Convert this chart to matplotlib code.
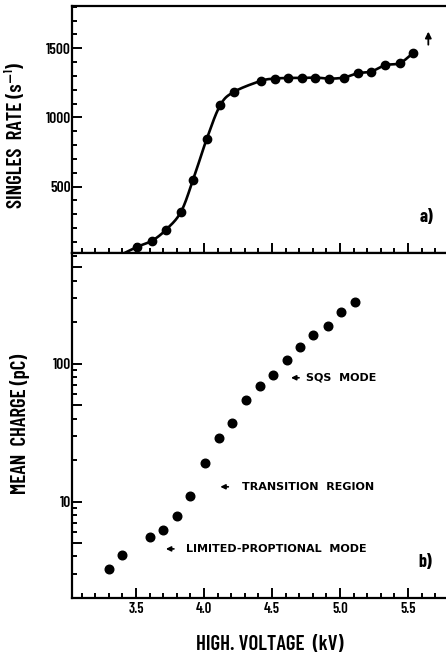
"""
HV scan of the chamber: singles rate (a) and mean collected charge (b)
against high voltage, with the operating regions marked.
"""

import numpy as np
import matplotlib
matplotlib.use("Agg")
import matplotlib.pyplot as plt
from matplotlib import ticker

OUT_PATH = "out.png"

# a) singles rate vs HV
hv_rate = [3.51, 3.62, 3.72, 3.83, 3.92, 4.02, 4.12, 4.22, 4.42, 4.52,
           4.62, 4.72, 4.82, 4.92, 5.03, 5.13, 5.23, 5.33, 5.44, 5.54]
singles_rate = [66, 110, 187, 315, 548, 842, 1088, 1184, 1264, 1280,
                1285, 1285, 1288, 1280, 1288, 1319, 1331, 1377, 1392, 1466]
# off-scale point beyond the last HV step
offscale_hv = 5.65
offscale_from, offscale_to = 1505, 1640

# b) mean charge vs HV
hv_charge = [3.30, 3.40, 3.60, 3.70, 3.80, 3.90, 4.01, 4.11, 4.21, 4.31,
             4.41, 4.51, 4.61, 4.71, 4.80, 4.91, 5.01, 5.11]
mean_charge = [3.24, 4.11, 5.52, 6.24, 7.87, 11.0, 19.2, 28.8, 37.3, 54.6,
               69.3, 82.8, 106, 131, 162, 188, 236, 279]

# region markers: (arrow head hv, charge, text start hv, label)
regions = [
    (4.62, 79, 4.75, "SQS  MODE"),
    (4.10, 12.8, 4.28, "TRANSITION  REGION"),
    (3.70, 4.54, 3.87, "LIMITED-PROPTIONAL  MODE"),
]

rate_ticks = [500, 1000, 1500]
charge_ticks = [5, 10, 50, 100, 500]
charge_labels = ["", "10", "", "100", ""]
hv_ticks = [3.5, 4.0, 4.5, 5.0, 5.5]

LETTER = ["Barlow Condensed", "DejaVu Sans"]


def catmull_rom(x, y, n=24):
    """Smooth curve passing through the measured points."""
    pts = np.column_stack([x, y]).astype(float)
    p = np.vstack([2 * pts[0] - pts[1], pts, 2 * pts[-1] - pts[-2]])
    t = np.linspace(0, 1, n, endpoint=False)[:, None]
    segs = []
    for i in range(1, len(p) - 2):
        p0, p1, p2, p3 = p[i - 1], p[i], p[i + 1], p[i + 2]
        segs.append(0.5 * (2 * p1 + (-p0 + p2) * t
                           + (2 * p0 - 5 * p1 + 4 * p2 - p3) * t ** 2
                           + (-p0 + 3 * p1 - 3 * p2 + p3) * t ** 3))
    segs.append(p[-2][None])
    return np.vstack(segs)


def style_axis(ax):
    for side in ("left", "bottom", "top"):
        ax.spines[side].set_linewidth(1.6)
    ax.spines["right"].set_visible(False)
    ax.tick_params(which="both", direction="in", top=False, right=False,
                   width=1.4)
    ax.tick_params(which="major", length=7)
    ax.tick_params(which="minor", length=3.5)
    ax.xaxis.set_major_locator(ticker.FixedLocator(hv_ticks))
    ax.xaxis.set_minor_locator(ticker.MultipleLocator(0.1))
    ax.set_xlim(3.03, 5.78)


fig = plt.figure(figsize=(4.46, 6.56), dpi=100)
ax1 = fig.add_axes([0.1614, 0.6143, 0.8386, 0.3766])
ax2 = fig.add_axes([0.1614, 0.0884, 0.8386, 0.5259])

# --- a) singles rate
style_axis(ax1)
curve = catmull_rom(hv_rate, singles_rate)
# carry the first segment down to the axis
y_floor = 20
d = curve[1] - curve[0]
k = (curve[0, 1] - y_floor) / d[1]
curve = np.vstack([curve[0] - 0.8 * k * d * np.array([1, 1.25]), curve])
ax1.plot(curve[:, 0], curve[:, 1], color="black", lw=1.9)
ax1.plot(hv_rate, singles_rate, "o", color="black", ms=6)
ax1.annotate("", xy=(offscale_hv, offscale_to), xytext=(offscale_hv, offscale_from),
             arrowprops=dict(arrowstyle="-|>", color="black", lw=1.3,
                             mutation_scale=9))
ax1.set_ylim(y_floor, 1805)
ax1.yaxis.set_major_locator(ticker.FixedLocator(rate_ticks))
ax1.yaxis.set_minor_locator(ticker.MultipleLocator(100))
ax1.tick_params(axis="x", labelbottom=False)
ax1.tick_params(axis="y", pad=1, labelsize=11)
ax1.text(0.949, 0.142, "a)", transform=ax1.transAxes, fontsize=13,
         fontweight="bold", family=LETTER, ha="center", va="center")

# --- b) mean charge
style_axis(ax2)
ax2.set_yscale("log")
ax2.plot(hv_charge, mean_charge, "o", color="black", ms=6.2)
ax2.set_ylim(2.0, 634)
ax2.yaxis.set_major_locator(ticker.FixedLocator(charge_ticks))
ax2.yaxis.set_major_formatter(ticker.FixedFormatter(charge_labels))
ax2.yaxis.set_minor_locator(ticker.LogLocator(base=10, subs=(2, 3, 4, 6, 7, 8, 9)))
ax2.yaxis.set_minor_formatter(ticker.NullFormatter())
ax2.tick_params(axis="y", pad=1, labelsize=11)
ax2.tick_params(axis="x", labelsize=10.5, pad=3)
ax2.set_xticklabels([f"{v:.1f}" for v in hv_ticks])

for head, q, text_x, label in regions:
    ax2.annotate("", xy=(head, q), xytext=(head + 0.1, q),
                 arrowprops=dict(arrowstyle="-|>", color="black", lw=1.2,
                                 mutation_scale=7))
    ax2.text(text_x, q, label, fontsize=8, fontweight="bold",
             ha="left", va="center", family=["DejaVu Sans"])
ax2.text(0.944, 0.104, "b)", transform=ax2.transAxes, fontsize=13,
         fontweight="bold", family=LETTER, ha="center", va="center")

for lbl in ax1.get_yticklabels() + ax2.get_yticklabels() + ax2.get_xticklabels():
    lbl.set_family(LETTER)
    lbl.set_fontweight("semibold")

# axis titles
title_kw = dict(ha="center", va="center", fontsize=15, fontweight="semibold",
                family=LETTER)
fig.text(0.036, 0.794, "SINGLES  RATE (s\u207b\u00b9)", rotation=90, **title_kw)
fig.text(0.045, 0.354, "MEAN  CHARGE (pC)", rotation=90, **title_kw)
fig.text(0.605, 0.0168, "HIGH. VOLTAGE  (kV)", **title_kw)

plt.savefig(OUT_PATH, dpi=100)
plt.close()
